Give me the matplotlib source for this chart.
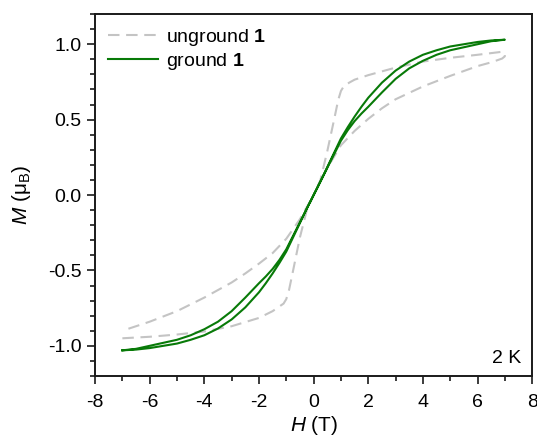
import matplotlib
matplotlib.use("Agg")
import matplotlib.pyplot as plt
from matplotlib.ticker import MultipleLocator, FormatStrFormatter

plt.rcParams["font.family"] = ["Liberation Sans", "DejaVu Sans"]
plt.rcParams["mathtext.fontset"] = "custom"
plt.rcParams["mathtext.rm"] = "Liberation Sans"
plt.rcParams["mathtext.it"] = "Liberation Sans:italic"
plt.rcParams["mathtext.bf"] = "Liberation Sans:bold"
plt.rcParams["axes.unicode_minus"] = False

# Unground sample: ascending branch (-7 T -> 7 T), step near +/-1 T
ung_up_H = [-7.0, -6.0, -5.0, -4.0, -3.0, -2.0, -1.5, -1.3, -1.1, -1.0, -0.9,
            -0.75, -0.5, -0.25, 0.0, 0.25, 0.5, 0.75, 0.9, 1.0, 1.1, 1.3, 1.5,
            2.0, 3.0, 4.0, 5.0, 6.0, 6.9, 7.0]
ung_up_M = [-0.95, -0.94, -0.925, -0.905, -0.87, -0.815, -0.77, -0.745, -0.72,
            -0.69, -0.63, -0.50, -0.28, -0.10, 0.0, 0.10, 0.29, 0.50, 0.63,
            0.69, 0.72, 0.745, 0.765, 0.795, 0.845, 0.885, 0.91, 0.93, 0.95,
            0.94]

# Unground sample: descending branch (7 T -> -7 T)
ung_dn_H = [7.0, 6.9, 6.5, 6.0, 5.0, 4.0, 3.0, 2.5, 2.0, 1.5, 1.0, 0.5, 0.0,
            -0.5, -1.0, -1.5, -2.0, -2.5, -3.0, -4.0, -5.0, -6.0, -7.0]
ung_dn_M = [0.92, 0.905, 0.88, 0.855, 0.79, 0.72, 0.635, 0.575, 0.505, 0.425,
            0.33, 0.18, 0.0, -0.16, -0.29, -0.385, -0.455, -0.52, -0.58, -0.68,
            -0.77, -0.84, -0.90]

# Ground sample: field grid shared by both branches of the loop
gr_H = [-7.0, -6.5, -6.0, -5.5, -5.0, -4.5, -4.0, -3.5, -3.0, -2.5, -2.0,
        -1.75, -1.5, -1.25, -1.0, -0.75, -0.5, -0.25, 0.0, 0.25, 0.5, 0.75,
        1.0, 1.25, 1.5, 1.75, 2.0, 2.5, 3.0, 3.5, 4.0, 4.5, 5.0, 5.5, 6.0,
        6.5, 7.0]
# descending branch (7 T -> -7 T), listed in increasing field
gr_dn_M = [-1.03, -1.02, -1.0, -0.98, -0.96, -0.93, -0.89, -0.84, -0.77,
           -0.68, -0.585, -0.54, -0.49, -0.43, -0.36, -0.27, -0.18, -0.09,
           0.0, 0.09, 0.185, 0.28, 0.375, 0.45, 0.52, 0.585, 0.645, 0.745,
           0.825, 0.885, 0.93, 0.96, 0.985, 1.0, 1.015, 1.025, 1.03]
# ascending branch (-7 T -> 7 T)
gr_up_M = [-1.03, -1.025, -1.015, -1.0, -0.985, -0.96, -0.93, -0.885, -0.825,
           -0.745, -0.645, -0.585, -0.52, -0.45, -0.375, -0.28, -0.185, -0.09,
           0.0, 0.09, 0.18, 0.27, 0.36, 0.43, 0.49, 0.54, 0.585, 0.68, 0.77,
           0.84, 0.89, 0.93, 0.96, 0.98, 1.0, 1.02, 1.03]

fig = plt.figure(figsize=(5.37, 4.40), dpi=100)
ax = fig.add_axes([0.177, 0.1455, 0.814, 0.8225])

grey = "#c4c4c4"
green = "#087a08"
ax.plot(ung_up_H + ung_dn_H, ung_up_M + ung_dn_M, color=grey, lw=1.5,
        dashes=(5.5, 3.2), label=r"unground $\mathbf{1}$")
ax.plot(gr_H + gr_H[::-1], gr_up_M + gr_dn_M[::-1], color=green, lw=1.5,
        label=r"ground $\mathbf{1}$")

ax.set_xlim(-8, 8)
ax.set_ylim(-1.2, 1.2)
ax.xaxis.set_major_locator(MultipleLocator(2))
ax.xaxis.set_minor_locator(MultipleLocator(1))
ax.yaxis.set_major_locator(MultipleLocator(0.5))
ax.yaxis.set_minor_locator(MultipleLocator(0.1))
ax.yaxis.set_major_formatter(FormatStrFormatter("%.1f"))

for s in ax.spines.values():
    s.set_linewidth(1.4)
    s.set_color("#1a1a1a")
ax.tick_params(which="both", direction="out", top=False, right=False,
               labelsize=14, width=1.2, color="#1a1a1a")
ax.tick_params(which="major", length=6)
ax.tick_params(which="minor", length=3.5)
ax.tick_params(axis="x", which="major", pad=7)

ax.set_xlabel(r"$\mathit{H}$ (T)", fontsize=15, labelpad=2)
ax.set_ylabel(r"$\mathit{M}$ ($\mathregular{\mu_B}$)", fontsize=15, labelpad=11)

ax.text(0.975, 0.025, "2 K", transform=ax.transAxes, ha="right", va="bottom",
        fontsize=14)

ax.legend(loc="upper left", frameon=False, fontsize=14, handlelength=2.6,
          handletextpad=0.4, borderaxespad=0.25, labelspacing=0.15)

fig.savefig("out.png", dpi=100)
